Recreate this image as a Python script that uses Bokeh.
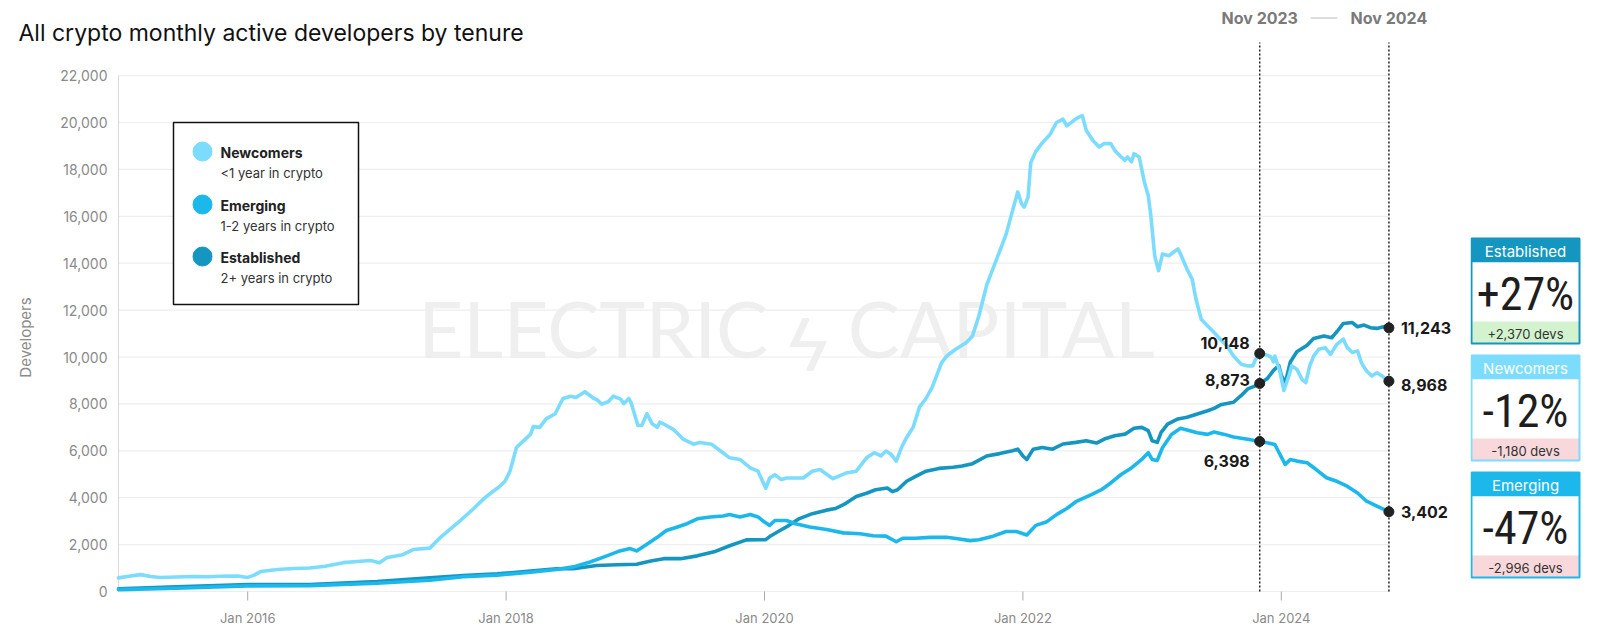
import math
from bokeh.plotting import figure
from bokeh.layouts import row
from bokeh.models import Range1d, Label
from bokeh.core.properties import value
from bokeh.embed import file_html
from bokeh.resources import INLINE

# ---------------- data ----------------
TITLE = "All crypto monthly active developers by tenure"
Y_LABEL = "Developers"
SERIES_NAMES = ["Newcomers", "Emerging", "Established"]
SERIES_DESC = ["<1 year in crypto", "1-2 years in crypto", "2+ years in crypto"]
X_TICKS = [2016, 2018, 2020, 2022, 2024]
X_TICK_LABELS = ["Jan 2016", "Jan 2018", "Jan 2020", "Jan 2022", "Jan 2024"]
Y_TICKS = [0, 2000, 4000, 6000, 8000, 10000, 12000, 14000, 16000, 18000, 20000, 22000]
MARK_DATES = [2023.833, 2024.833]
MARK_LABELS = ["Nov 2023", "Nov 2024"]
BOX_ORDER = ["Established", "Newcomers", "Emerging"]
WATERMARK = "ELECTRIC ϟ CAPITAL"

newcomers_t = [2015.00, 2015.08, 2015.17, 2015.25, 2015.32, 2015.45, 2015.58, 2015.70, 2015.79, 2015.92,
               2016.00, 2016.05, 2016.10, 2016.23, 2016.35, 2016.48, 2016.60, 2016.74, 2016.85, 2016.95,
               2017.02, 2017.08, 2017.20, 2017.28, 2017.41, 2017.49, 2017.62, 2017.75, 2017.83, 2017.88,
               2017.95, 2017.99, 2018.03, 2018.08, 2018.12, 2018.19, 2018.21, 2018.26, 2018.31, 2018.38,
               2018.44, 2018.50, 2018.54, 2018.61, 2018.68, 2018.70, 2018.74, 2018.79, 2018.83, 2018.89,
               2018.91, 2018.95, 2018.97, 2019.02, 2019.05, 2019.09, 2019.13, 2019.17, 2019.19, 2019.24,
               2019.30, 2019.37, 2019.45, 2019.50, 2019.59, 2019.66, 2019.73, 2019.81, 2019.89, 2019.95,
               2020.01, 2020.04, 2020.08, 2020.13, 2020.17, 2020.30, 2020.37, 2020.43, 2020.53, 2020.63,
               2020.71, 2020.79, 2020.85, 2020.90, 2020.94, 2020.98, 2021.02, 2021.06, 2021.10, 2021.15,
               2021.20, 2021.25, 2021.30, 2021.37, 2021.41, 2021.48, 2021.56, 2021.61, 2021.66, 2021.72,
               2021.77, 2021.82, 2021.87, 2021.92, 2021.96, 2021.99, 2022.01, 2022.04, 2022.06, 2022.10,
               2022.15, 2022.21, 2022.26, 2022.31, 2022.34, 2022.39, 2022.43, 2022.46, 2022.49, 2022.54,
               2022.59, 2022.63, 2022.68, 2022.71, 2022.76, 2022.79, 2022.81, 2022.84, 2022.86, 2022.90,
               2022.94, 2022.97, 2022.99, 2023.02, 2023.05, 2023.08, 2023.13, 2023.20, 2023.22, 2023.27,
               2023.31, 2023.34, 2023.38, 2023.43, 2023.48, 2023.53, 2023.58, 2023.63, 2023.69, 2023.74,
               2023.78, 2023.80, 2023.833, 2023.88, 2023.92, 2023.94, 2023.95, 2023.99, 2024.02, 2024.06,
               2024.08, 2024.12, 2024.16, 2024.19, 2024.22, 2024.25, 2024.29, 2024.34, 2024.38, 2024.43,
               2024.48, 2024.51, 2024.55, 2024.59, 2024.62, 2024.66, 2024.70, 2024.74, 2024.78, 2024.833]
newcomers_v = [580, 650, 720, 640, 600, 620, 640, 630, 650, 660,
               600, 700, 850, 940, 980, 1000, 1080, 1230, 1280, 1320,
               1230, 1450, 1570, 1790, 1850, 2300, 2900, 3540, 3970, 4190,
               4480, 4690, 5130, 6140, 6350, 6710, 7030, 7000, 7360, 7580,
               8230, 8330, 8270, 8520, 8230, 8190, 7990, 8090, 8330, 8190,
               8010, 8230, 8010, 7080, 7080, 7580, 7150, 7000, 7220, 7080,
               6890, 6500, 6280, 6350, 6280, 5990, 5700, 5630, 5270, 5130,
               4400, 4840, 4980, 4770, 4840, 4840, 5130, 5200, 4810, 5050,
               5130, 5700, 5920, 5780, 5990, 5850, 5560, 6140, 6570, 7000,
               7870, 8230, 8740, 9750, 10040, 10330, 10610, 10900, 11770, 13070,
               13790, 14510, 15230, 16250, 17040, 16530, 16390, 16820, 18270, 18770,
               19130, 19490, 20000, 20140, 19860, 20070, 20220, 20290, 19670, 19240,
               18960, 19100, 19100, 18820, 18530, 18390, 18530, 18320, 18670, 18530,
               17460, 16890, 16030, 14320, 13680, 14390, 14320, 14610, 14390, 13750,
               13320, 12460, 11610, 11320, 11040, 10750, 10470, 10040, 9690, 9620,
               9620, 9900, 10148, 10100, 10000, 9790, 10040, 9360, 8570, 9220,
               9620, 9480, 9050, 8910, 9620, 10040, 10330, 10400, 10110, 10540,
               10760, 10400, 10190, 10260, 9760, 9400, 9190, 9330, 9190, 8968]

emerging_t = [2015.00, 2015.45, 2016.00, 2016.48, 2017.00, 2017.41, 2017.67, 2017.93, 2018.06, 2018.19,
              2018.39, 2018.52, 2018.65, 2018.78, 2018.88, 2018.96, 2019.01, 2019.09, 2019.17, 2019.24,
              2019.32, 2019.40, 2019.48, 2019.58, 2019.68, 2019.73, 2019.81, 2019.89, 2019.95, 2020.00,
              2020.04, 2020.08, 2020.17, 2020.24, 2020.35, 2020.48, 2020.61, 2020.74, 2020.84, 2020.94,
              2021.02, 2021.07, 2021.17, 2021.28, 2021.41, 2021.51, 2021.59, 2021.66, 2021.77, 2021.87,
              2021.95, 2022.03, 2022.10, 2022.18, 2022.26, 2022.34, 2022.41, 2022.53, 2022.61, 2022.68,
              2022.76, 2022.84, 2022.92, 2022.97, 2023.00, 2023.04, 2023.08, 2023.15, 2023.22, 2023.30,
              2023.35, 2023.43, 2023.48, 2023.56, 2023.63, 2023.74, 2023.833, 2023.89, 2023.95, 2023.99,
              2024.03, 2024.07, 2024.12, 2024.20, 2024.27, 2024.35, 2024.43, 2024.51, 2024.59, 2024.66,
              2024.74, 2024.833]
emerging_v = [80, 140, 240, 250, 350, 480, 630, 700, 760, 820,
              940, 1050, 1260, 1520, 1730, 1830, 1730, 2020, 2310, 2600,
              2740, 2890, 3100, 3180, 3220, 3280, 3180, 3280, 3180, 2960,
              2820, 3030, 3030, 2890, 2750, 2640, 2500, 2460, 2380, 2360,
              2120, 2270, 2270, 2310, 2310, 2240, 2170, 2210, 2360, 2560,
              2560, 2410, 2820, 2960, 3280, 3540, 3830, 4130, 4350, 4630,
              4990, 5270, 5630, 5920, 5630, 5590, 6130, 6700, 6960, 6840,
              6770, 6700, 6800, 6700, 6590, 6490, 6398, 6340, 6270, 5840,
              5420, 5630, 5560, 5490, 5200, 4850, 4700, 4490, 4200, 3850,
              3640, 3402]

established_t = [2015.00, 2015.45, 2016.00, 2016.48, 2017.00, 2017.41, 2017.67, 2017.93, 2018.19, 2018.39,
                 2018.52, 2018.70, 2018.86, 2019.01, 2019.12, 2019.22, 2019.35, 2019.48, 2019.61, 2019.73,
                 2019.86, 2019.95, 2020.01, 2020.05, 2020.12, 2020.19, 2020.27, 2020.37, 2020.48, 2020.55,
                 2020.63, 2020.71, 2020.79, 2020.86, 2020.95, 2020.99, 2021.03, 2021.10, 2021.17, 2021.25,
                 2021.35, 2021.46, 2021.53, 2021.61, 2021.72, 2021.82, 2021.92, 2021.96, 2022.00, 2022.03,
                 2022.08, 2022.15, 2022.23, 2022.31, 2022.41, 2022.49, 2022.57, 2022.63, 2022.71, 2022.79,
                 2022.86, 2022.92, 2022.97, 2023.00, 2023.04, 2023.07, 2023.12, 2023.20, 2023.27, 2023.35,
                 2023.43, 2023.48, 2023.53, 2023.63, 2023.69, 2023.74, 2023.79, 2023.833, 2023.89, 2023.94,
                 2023.98, 2024.00, 2024.03, 2024.07, 2024.12, 2024.20, 2024.25, 2024.33, 2024.39, 2024.44,
                 2024.48, 2024.55, 2024.59, 2024.64, 2024.69, 2024.74, 2024.79, 2024.833]
established_v = [120, 200, 300, 300, 420, 580, 680, 750, 870, 970,
                 970, 1110, 1140, 1160, 1300, 1400, 1400, 1520, 1690, 1950,
                 2200, 2210, 2210, 2380, 2600, 2820, 3110, 3320, 3470, 3540,
                 3760, 4050, 4190, 4340, 4410, 4260, 4340, 4700, 4910, 5130,
                 5250, 5300, 5350, 5450, 5780, 5880, 6000, 6070, 5780, 5630,
                 6070, 6140, 6070, 6290, 6360, 6430, 6330, 6500, 6640, 6710,
                 6960, 7000, 6860, 6430, 6360, 6790, 7140, 7360, 7430, 7570,
                 7710, 7810, 7960, 8070, 8360, 8640, 8750, 8873, 9070, 9430,
                 9640, 9220, 8870, 9790, 10220, 10500, 10790, 10900, 10820, 11150,
                 11430, 11470, 11290, 11360, 11250, 11220, 11290, 11243]

# ---------------- style / layout ----------------
FONT = "Inter"
COND_FONT = "'Roboto Condensed', 'Liberation Sans Narrow', 'DejaVu Sans Condensed', sans-serif"
COLORS = {"Newcomers": "#7cdcfd", "Emerging": "#1cb8ec", "Established": "#1596c1"}
SERIES = {"Newcomers": (newcomers_t, newcomers_v),
          "Emerging": (emerging_t, emerging_v),
          "Established": (established_t, established_v)}

W1, H = 1470, 632
PX_2015, PX_PER_YEAR = 118.0, 129.2      # page pixel of Jan 2015, pixels per year
PY_ZERO, PX_PER_1000 = 591.0, 23.45      # page pixel of y=0, pixels per 1,000 developers


def X(px):
    """page pixel column -> data x (years)"""
    return 2015.0 + (px - PX_2015) / PX_PER_YEAR


def Y(py):
    """page pixel row -> data y (developers)"""
    return (PY_ZERO - py) / PX_PER_1000 * 1000.0


p = figure(width=W1, height=H, x_range=Range1d(X(0), X(W1)), y_range=Range1d(Y(H), Y(0)),
           output_backend="svg", toolbar_location=None, min_border=0,
           x_axis_location=None, y_axis_location=None)
p.grid.visible = False
p.outline_line_color = None
p.background_fill_color = "white"

# watermark (behind everything)
p.add_layout(Label(x=X(786), y=Y(327), text=WATERMARK, text_align="center", text_baseline="middle",
                   text_font="Lato", text_font_size="78px", text_color="#efefef", level="underlay"))

# grid lines, axis line, x ticks
x_left, x_right = 2015.0, X(1389)
p.segment(x0=[x_left] * len(Y_TICKS), y0=Y_TICKS, x1=[x_right] * len(Y_TICKS), y1=Y_TICKS,
          line_color="#eeeeee", line_width=1.2)
p.segment(x0=[x_left], y0=[0], x1=[x_left], y1=[Y_TICKS[-1]], line_color="#d9d9d9", line_width=1)
p.segment(x0=X_TICKS, y0=[0] * len(X_TICKS), x1=X_TICKS, y1=[Y(600)] * len(X_TICKS),
          line_color="#aaaaaa", line_width=1)

# tick labels
p.text(x=[x_left] * len(Y_TICKS), y=Y_TICKS, text=[f"{v:,}" for v in Y_TICKS], x_offset=-11,
       text_align="right", text_baseline="middle", text_font=value(FONT), text_font_size="14px",
       text_color="#8a8a8a")
p.text(x=X_TICKS, y=[0] * len(X_TICKS), text=X_TICK_LABELS, y_offset=26, text_align="center",
       text_baseline="middle", text_font=value(FONT), text_font_size="13px", text_color="#8a8a8a")

# vertical dotted marker lines
p.segment(x0=MARK_DATES, y0=[0, 0], x1=MARK_DATES, y1=[Y(42), Y(42)], line_color="#222222",
          line_dash="2 2", line_width=1.5)

# series
for name in ["Established", "Emerging", "Newcomers"]:
    t, v = SERIES[name]
    p.line(t, v, line_color=COLORS[name], line_width=3.6, line_join="round", line_cap="round")

# markers + value labels
start_vals, end_vals = {}, {}
for name in SERIES_NAMES:
    t, v = SERIES[name]
    start_vals[name] = v[t.index(MARK_DATES[0])]
    end_vals[name] = v[t.index(MARK_DATES[1])]

START_YOFF = {"Newcomers": 11, "Established": 3, "Emerging": -20}
END_YOFF = {"Newcomers": -4, "Established": 0, "Emerging": 0}
p.scatter([MARK_DATES[0]] * 3 + [MARK_DATES[1]] * 3,
          [start_vals[n] for n in SERIES_NAMES] + [end_vals[n] for n in SERIES_NAMES],
          size=10, color="#222222")
for n in SERIES_NAMES:
    p.add_layout(Label(x=MARK_DATES[0], y=start_vals[n], text=f"{start_vals[n]:,}",
                       x_offset=-10, y_offset=START_YOFF[n], text_align="right", text_baseline="middle",
                       text_font=FONT, text_font_style="bold", text_font_size="16px",
                       text_color="#1a1a1a"))
    p.add_layout(Label(x=MARK_DATES[1], y=end_vals[n], text=f"{end_vals[n]:,}",
                       x_offset=12, y_offset=END_YOFF[n], text_align="left", text_baseline="middle",
                       text_font=FONT, text_font_style="bold", text_font_size="16px",
                       text_color="#1a1a1a"))

# top period labels
for d, lab in zip(MARK_DATES, MARK_LABELS):
    p.add_layout(Label(x=d, y=Y(17.5), text=lab, text_align="center", text_baseline="middle",
                       text_font=FONT, text_font_style="bold", text_font_size="16px",
                       text_color="#7a7a7a"))
p.segment(x0=[X(1310)], y0=[Y(17.5)], x1=[X(1337)], y1=[Y(17.5)], line_color="#bbbbbb", line_width=1)

# title and y-axis label
p.add_layout(Label(x=X(18), y=Y(32), text=TITLE, text_baseline="middle", text_font=FONT,
                   text_font_size="23px", text_color="#111111"))
p.add_layout(Label(x=X(25), y=Y(337), text=Y_LABEL, angle=math.pi / 2, text_align="center",
                   text_baseline="middle", text_font=FONT, text_font_size="15px", text_color="#8a8a8a"))

# legend
p.quad(left=X(173), right=X(358), top=Y(122), bottom=Y(304), fill_color="white",
       line_color="#111111", line_width=1.5)
LEG_PY = [151, 204, 256]
p.scatter([X(202)] * 3, [Y(py) for py in LEG_PY], size=19, color=[COLORS[n] for n in SERIES_NAMES])
p.text(x=[X(220)] * 3, y=[Y(py + 1) for py in LEG_PY], text=SERIES_NAMES, text_baseline="middle",
       text_font=value(FONT), text_font_style="bold", text_font_size="14px", text_color="#222222")
p.text(x=[X(220)] * 3, y=[Y(py + 21) for py in LEG_PY], text=SERIES_DESC, text_baseline="middle",
       text_font=value(FONT), text_font_size="13px", text_color="#333333")

# ---------------- right-hand change boxes ----------------
W2 = 1592 - W1
p2 = figure(width=W2, height=H, x_range=Range1d(0, W2), y_range=Range1d(H, 0),
            output_backend="svg", toolbar_location=None, min_border=0,
            x_axis_location=None, y_axis_location=None)
p2.grid.visible = False
p2.outline_line_color = None

BOX_L, BOX_R, BOX_TOP, PITCH, HDR, BODY, SUB = 1, 109, 238, 117, 24, 59, 22
cx = (BOX_L + BOX_R) / 2
for i, n in enumerate(BOX_ORDER):
    top = BOX_TOP + i * PITCH
    delta = end_vals[n] - start_vals[n]
    pct = round(delta / start_vals[n] * 100)
    sub_bg = "#d3f3cf" if delta > 0 else "#f9d8dc"
    p2.quad(left=BOX_L, right=BOX_R, top=top, bottom=top + HDR, fill_color=COLORS[n], line_color=None)
    p2.quad(left=BOX_L, right=BOX_R, top=top + HDR, bottom=top + HDR + BODY, fill_color="white", line_color=None)
    p2.quad(left=BOX_L, right=BOX_R, top=top + HDR + BODY, bottom=top + HDR + BODY + SUB,
            fill_color=sub_bg, line_color=None)
    p2.quad(left=BOX_L, right=BOX_R, top=top, bottom=top + HDR + BODY + SUB, fill_color=None,
            line_color=COLORS[n], line_width=2)
    p2.text(x=[cx], y=[top + HDR / 2 + 1], text=[n], text_align="center", text_baseline="middle",
            text_font=value(FONT), text_font_size="15px", text_color="white")
    p2.text(x=[cx], y=[top + HDR + BODY / 2 + 2], text=[f"{pct:+d}%"], text_align="center",
            text_baseline="middle", text_font=value(COND_FONT), text_font_size="46px",
            text_color="#1e1e1e")
    p2.text(x=[cx], y=[top + HDR + BODY + SUB / 2 + 1], text=[f"{delta:+,} devs"], text_align="center",
            text_baseline="middle", text_font=value(FONT), text_font_size="13px", text_color="#333333")

layout = row(p, p2)
open("out.html", "w").write(file_html(layout, INLINE))
